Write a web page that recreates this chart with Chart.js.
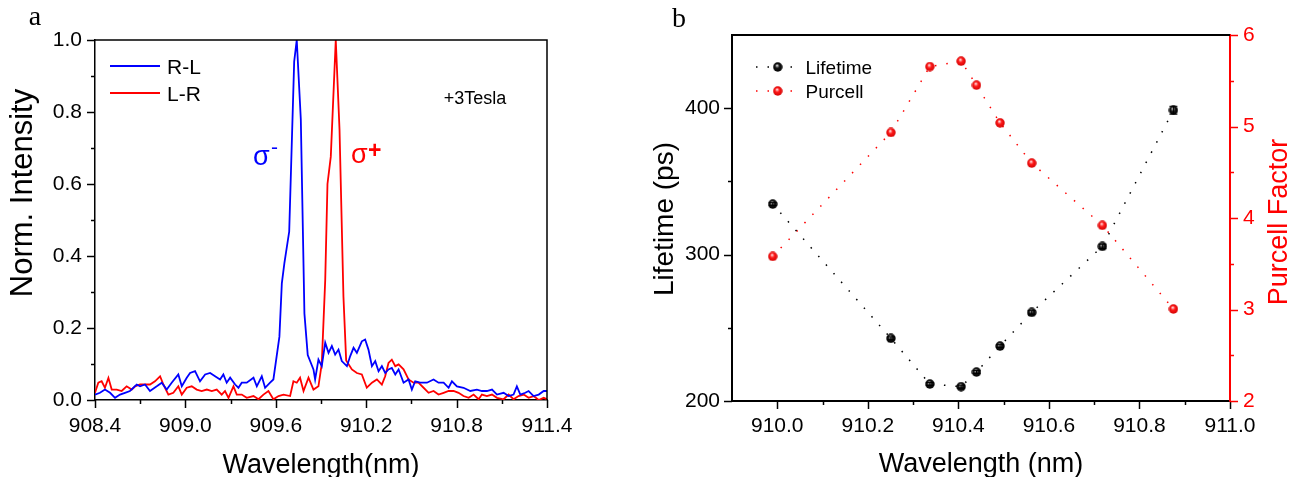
<!DOCTYPE html>
<html>
<head>
<meta charset="utf-8">
<title>Magneto-PL and Purcell factor</title>
<script src="https://cdn.jsdelivr.net/npm/chart.js"></script>
<style>
  body { margin: 0; background: #fff; }
  #wrap { position: relative; width: 1297px; height: 477px; overflow: hidden; }
  #chartA { position: absolute; left: 0; top: 0; }
  #chartB { position: absolute; left: 600px; top: 0; }
</style>
</head>
<body>
<div id="wrap">
  <canvas id="chartA" width="600" height="477"></canvas>
  <canvas id="chartB" width="697" height="477"></canvas>
</div>
<script>
// ---- panel a : normalised PL spectra at +3 T ----
const rlWl = [908.400,908.433,908.466,908.500,908.533,908.566,908.599,908.632,908.677,908.699,
  908.732,908.765,908.810,908.843,908.876,908.909,908.953,908.976,909.009,909.031,
  909.064,909.097,909.131,909.164,909.197,909.230,909.252,909.274,909.297,909.330,
  909.352,909.374,909.407,909.452,909.474,909.507,909.529,909.562,909.584,909.624,
  909.640,909.657,909.689,909.722,909.739,909.766,909.790,909.812,909.850,909.861,
  909.883,909.905,909.928,909.950,909.972,909.994,910.016,910.038,910.072,910.094,
  910.116,910.138,910.171,910.193,910.215,910.238,910.260,910.282,910.304,910.326,
  910.348,910.370,910.393,910.415,910.448,910.481,910.503,910.525,910.558,910.603,
  910.647,910.680,910.714,910.747,910.769,910.802,910.846,910.891,910.935,910.968,
  911.001,911.035,911.068,911.112,911.145,911.178,911.200,911.223,911.256,911.278,
  911.311,911.345,911.378,911.400];
const rlInt = [0.015,0.020,0.029,0.020,0.006,0.015,0.020,0.025,0.043,0.038,
  0.043,0.025,0.038,0.048,0.029,0.048,0.071,0.038,0.062,0.075,
  0.080,0.052,0.071,0.075,0.066,0.057,0.071,0.048,0.062,0.043,
  0.034,0.048,0.048,0.062,0.038,0.066,0.034,0.048,0.057,0.176,
  0.324,0.380,0.468,0.940,1.000,0.780,0.240,0.125,0.085,0.057,
  0.112,0.094,0.159,0.131,0.150,0.126,0.140,0.108,0.094,0.122,
  0.145,0.131,0.163,0.168,0.140,0.094,0.108,0.080,0.094,0.075,
  0.085,0.089,0.071,0.085,0.048,0.057,0.029,0.052,0.048,0.048,
  0.057,0.048,0.048,0.034,0.052,0.038,0.034,0.025,0.029,0.025,
  0.025,0.029,0.015,0.020,0.011,0.015,0.038,0.015,0.020,0.025,
  0.011,0.015,0.025,0.025];

const lrWl = [908.400,908.422,908.444,908.466,908.489,908.511,908.544,908.577,908.610,908.644,
  908.666,908.699,908.732,908.765,908.798,908.832,908.854,908.887,908.920,908.953,
  908.976,909.009,909.042,909.075,909.108,909.142,909.175,909.208,909.241,909.263,
  909.286,909.319,909.341,909.374,909.407,909.452,909.485,909.518,909.551,909.584,
  909.618,909.651,909.695,909.717,909.739,909.761,909.784,909.817,909.850,909.883,
  909.905,909.928,909.943,909.965,909.998,910.023,910.049,910.067,910.105,910.138,
  910.171,910.204,910.238,910.271,910.304,910.326,910.348,910.370,910.393,910.415,
  910.448,910.481,910.514,910.547,910.581,910.614,910.647,910.680,910.714,910.747,
  910.780,910.813,910.846,910.880,910.913,910.946,910.968,911.001,911.035,911.068,
  911.112,911.145,911.178,911.211,911.245,911.278,911.311,911.345,911.378,911.400];
const lrInt = [0.020,0.048,0.052,0.034,0.061,0.029,0.029,0.025,0.038,0.029,
  0.038,0.043,0.043,0.043,0.052,0.066,0.043,0.015,0.020,0.038,
  0.015,0.034,0.038,0.029,0.025,0.029,0.025,0.029,0.015,0.025,
  0.006,0.038,0.015,0.015,0.006,0.011,0.002,0.015,0.025,0.002,
  0.011,0.015,0.011,0.052,0.048,0.062,0.025,0.062,0.029,0.038,
  0.100,0.333,0.600,0.676,1.000,0.750,0.287,0.110,0.085,0.075,
  0.071,0.034,0.048,0.057,0.043,0.066,0.103,0.112,0.094,0.099,
  0.085,0.057,0.048,0.048,0.034,0.020,0.025,0.015,0.020,0.025,
  0.025,0.020,0.011,0.006,0.015,0.002,0.015,0.011,0.015,0.006,
  0.002,0.015,0.002,0.011,0.015,0.006,0.011,0.000,0.006,0.002];

const aXTicks = [908.4, 909.0, 909.6, 910.2, 910.8, 911.4];
const aYTicks = [0.0, 0.2, 0.4, 0.6, 0.8, 1.0];

// ---- panel b : lifetime and Purcell factor vs wavelength ----
const bWl = [909.990, 910.251, 910.337, 910.406, 910.440, 910.492, 910.562, 910.718, 910.875];
const lifetime = [334.5, 242.8, 211.6, 209.8, 219.8, 237.5, 260.5, 305.6, 398.6];
const lifetimeErr = [1.0, 1.0, 1.0, 1.0, 1.0, 1.0, 1.2, 1.5, 2.7];
const purcell = [3.58, 4.935, 5.655, 5.714, 5.452, 5.04, 4.60, 3.92, 3.006];

const bXTicks = [910.0, 910.2, 910.4, 910.6, 910.8, 911.0];
const bYTicks = [200, 300, 400];
const bY1Ticks = [2, 3, 4, 5, 6];

const SANS = "'Liberation Sans', Arial, sans-serif";
const SERIF = "'Liberation Serif', 'Times New Roman', serif";
Chart.defaults.font.family = SANS;
Chart.defaults.color = '#000';

function midpoints(arr) {
    const out = [];
    for (let i = 0; i < arr.length - 1; i++) out.push((arr[i] + arr[i + 1]) / 2);
    return out;
}

function pairs(xs, ys) {
    return xs.map((x, i) => ({x: x, y: ys[i]}));
}

// little shaded ball used as marker in panel b
function sphere(light, base, edge) {
    const c = document.createElement('canvas');
    c.width = 10; c.height = 10;
    const g = c.getContext('2d');
    const grad = g.createRadialGradient(4.2, 3.4, 0.3, 5, 5, 5);
    grad.addColorStop(0, light);
    grad.addColorStop(0.4, base);
    grad.addColorStop(1, edge);
    g.fillStyle = grad;
    g.beginPath();
    g.arc(5, 5, 4.7, 0, Math.PI * 2);
    g.fill();
    return c;
}
const ballBlack = sphere('#d8d8d8', '#151515', '#000000');
const ballRed = sphere('#ffe0e0', '#ff1a1a', '#d00000');

// draw outward tick marks from the scale's own pixel mapping
function tickMarks(chart, id, values, len, side, color) {
    const s = chart.scales[id];
    const ca = chart.chartArea;
    const ctx = chart.ctx;
    ctx.save();
    ctx.strokeStyle = color;
    ctx.lineWidth = 1.5;
    values.forEach(v => {
        const p = Math.round(s.getPixelForValue(v)) + 0.5;
        ctx.beginPath();
        if (side === 'bottom') { ctx.moveTo(p, ca.bottom); ctx.lineTo(p, ca.bottom + len); }
        else if (side === 'left') { ctx.moveTo(ca.left, p); ctx.lineTo(ca.left - len, p); }
        else { ctx.moveTo(ca.right, p); ctx.lineTo(ca.right + len, p); }
        ctx.stroke();
    });
    ctx.restore();
}

function text(ctx, str, x, y, font, color, align, rot) {
    ctx.save();
    ctx.font = font;
    ctx.fillStyle = color;
    ctx.textAlign = align || 'left';
    ctx.textBaseline = 'alphabetic';
    ctx.translate(x, y);
    if (rot) ctx.rotate(rot);
    ctx.fillText(str, 0, 0);
    ctx.restore();
}

// Panel a extras: frame, ticks, titles, legend, labels
const panelA = {
    id: 'panelA',
    afterDraw(chart) {
        const ctx = chart.ctx;
        const ca = chart.chartArea;
        ctx.save();
        ctx.strokeStyle = '#000';
        ctx.lineWidth = 1.5;
        ctx.beginPath();
        ctx.moveTo(ca.left, ca.top);
        ctx.lineTo(ca.right, ca.top);
        ctx.lineTo(ca.right, ca.bottom);
        ctx.stroke();
        ctx.restore();

        tickMarks(chart, 'x', aXTicks, 8, 'bottom', '#000');
        tickMarks(chart, 'x', midpoints(aXTicks), 4, 'bottom', '#000');
        tickMarks(chart, 'y', aYTicks, 8, 'left', '#000');
        tickMarks(chart, 'y', midpoints(aYTicks), 4, 'left', '#000');

        text(ctx, 'a', 35, 25, '28px ' + SERIF, '#000', 'center');
        text(ctx, 'Norm. Intensity', 32, 193, '31px ' + SANS, '#000', 'center', -Math.PI / 2);
        text(ctx, 'Wavelength(nm)', (ca.left + ca.right) / 2, 473, '27px ' + SANS, '#000', 'center');

        // legend
        const ds = chart.data.datasets;
        [[ds[0], 66], [ds[1], 93]].forEach(([d, y]) => {
            ctx.save();
            ctx.strokeStyle = d.borderColor;
            ctx.lineWidth = 1.8;
            ctx.beginPath();
            ctx.moveTo(110, y);
            ctx.lineTo(160, y);
            ctx.stroke();
            ctx.restore();
            text(ctx, d.label, 167, y + 7.5, '21px ' + SANS, '#000', 'left');
        });

        text(ctx, '+3Tesla', 475, 103.5, '18px ' + SANS, '#000', 'center');

        // sigma labels
        text(ctx, '\u03c3', 253, 165, '27px ' + SANS, '#0000ff', 'left');
        text(ctx, '-', 271, 154, '21px ' + SANS, '#0000ff', 'left');
        text(ctx, '\u03c3', 351, 163, '27px ' + SANS, '#ff0000', 'left');
        text(ctx, '+', 368, 158, 'bold 23px ' + SANS, '#ff0000', 'left');
    }
};

new Chart(document.getElementById('chartA'), {
    type: 'scatter',
    data: {
        datasets: [
            {label: 'R-L', data: pairs(rlWl, rlInt), showLine: true, borderColor: '#0000ff',
             borderWidth: 1.8, pointRadius: 0, tension: 0},
            {label: 'L-R', data: pairs(lrWl, lrInt), showLine: true, borderColor: '#ff0000',
             borderWidth: 1.8, pointRadius: 0, tension: 0}
        ]
    },
    options: {
        responsive: false,
        animation: false,
        devicePixelRatio: 1,
        layout: {padding: {left: 0, top: 40, right: 53, bottom: 0}},
        plugins: {legend: {display: false}, tooltip: {enabled: false}},
        scales: {
            x: {
                type: 'linear', min: 908.4, max: 911.4,
                afterBuildTicks: s => { s.ticks = aXTicks.map(v => ({value: v})); },
                afterFit: s => { s.height = 77; },
                ticks: {callback: v => v.toFixed(1), font: {size: 21}, color: '#000',
                        padding: 14, maxRotation: 0, autoSkip: false},
                grid: {display: false, drawTicks: false},
                border: {display: true, color: '#000', width: 1.5}
            },
            y: {
                min: 0, max: 1,
                afterBuildTicks: s => { s.ticks = aYTicks.map(v => ({value: v})); },
                afterFit: s => { s.width = 95; },
                ticks: {callback: v => v.toFixed(1), font: {size: 21}, color: '#000', padding: 13},
                grid: {display: false, drawTicks: false},
                border: {display: true, color: '#000', width: 1.5}
            }
        }
    },
    plugins: [panelA]
});

// Panel b extras
const panelB = {
    id: 'panelB',
    afterDatasetsDraw(chart) {
        const ctx = chart.ctx;
        const sx = chart.scales.x, sy = chart.scales.y;
        ctx.save();
        ctx.strokeStyle = '#000';
        ctx.lineWidth = 1;
        bWl.forEach((w, i) => {
            const px = sx.getPixelForValue(w);
            const top = sy.getPixelForValue(lifetime[i] + lifetimeErr[i]);
            const bot = sy.getPixelForValue(lifetime[i] - lifetimeErr[i]);
            ctx.beginPath();
            ctx.moveTo(px, top); ctx.lineTo(px, bot);
            ctx.moveTo(px - 4, top); ctx.lineTo(px + 4, top);
            ctx.moveTo(px - 4, bot); ctx.lineTo(px + 4, bot);
            ctx.stroke();
        });
        ctx.restore();
    },
    afterDraw(chart) {
        const ctx = chart.ctx;
        const ca = chart.chartArea;
        ctx.save();
        ctx.strokeStyle = '#000';
        ctx.lineWidth = 2;
        ctx.beginPath();
        ctx.moveTo(ca.left, ca.top);
        ctx.lineTo(ca.right, ca.top);
        ctx.stroke();
        ctx.restore();

        tickMarks(chart, 'x', bXTicks, 8, 'bottom', '#000');
        tickMarks(chart, 'x', midpoints(bXTicks), 4, 'bottom', '#000');
        tickMarks(chart, 'y', bYTicks, 8, 'left', '#000');
        tickMarks(chart, 'y', midpoints(bYTicks), 4, 'left', '#000');
        tickMarks(chart, 'y1', bY1Ticks, 8, 'right', '#ff0000');
        tickMarks(chart, 'y1', midpoints(bY1Ticks), 4, 'right', '#ff0000');

        text(ctx, 'b', 72, 27, '28px ' + SERIF, '#000', 'left');
        text(ctx, 'Lifetime (ps)', 73, 219, '28px ' + SANS, '#000', 'center', -Math.PI / 2);
        text(ctx, 'Purcell Factor', 687, 222, '27px ' + SANS, '#ff0000', 'center', -Math.PI / 2);
        text(ctx, 'Wavelength (nm)', (ca.left + ca.right) / 2, 472, '27px ' + SANS, '#000', 'center');

        // legend
        const ds = chart.data.datasets;
        [[ds[0], ballBlack, 67], [ds[1], ballRed, 91]].forEach(([d, img, y]) => {
            ctx.save();
            ctx.strokeStyle = d.borderColor;
            ctx.lineWidth = 1.5;
            ctx.setLineDash([1.5, 10]);
            ctx.beginPath();
            ctx.moveTo(156, y);
            ctx.lineTo(197, y);
            ctx.stroke();
            ctx.restore();
            ctx.drawImage(img, 172.7, y - 5);
            text(ctx, d.label, 205.5, y + 7, '19px ' + SANS, '#000', 'left');
        });
    }
};

new Chart(document.getElementById('chartB'), {
    type: 'scatter',
    data: {
        datasets: [
            {label: 'Lifetime', data: pairs(bWl, lifetime), yAxisID: 'y', showLine: true,
             borderColor: '#000', borderWidth: 1.5, borderDash: [1.5, 10],
             pointStyle: ballBlack, pointRadius: 5, tension: 0},
            {label: 'Purcell', data: pairs(bWl, purcell), yAxisID: 'y1', showLine: true,
             borderColor: '#ff0000', borderWidth: 1.5, borderDash: [1.5, 10],
             pointStyle: ballRed, pointRadius: 5, tension: 0}
        ]
    },
    options: {
        responsive: false,
        animation: false,
        devicePixelRatio: 1,
        layout: {padding: {left: 0, top: 35, right: 0, bottom: 0}},
        plugins: {legend: {display: false}, tooltip: {enabled: false}},
        scales: {
            x: {
                type: 'linear', min: 909.9, max: 911.0,
                afterBuildTicks: s => { s.ticks = bXTicks.map(v => ({value: v})); },
                afterFit: s => { s.height = 76; },
                ticks: {callback: v => v.toFixed(1), font: {size: 21}, color: '#000',
                        padding: 13, maxRotation: 0, autoSkip: false},
                grid: {display: false, drawTicks: false},
                border: {display: true, color: '#000', width: 2}
            },
            y: {
                position: 'left', min: 200, max: 450,
                afterBuildTicks: s => { s.ticks = bYTicks.map(v => ({value: v})); },
                afterFit: s => { s.width = 132; },
                ticks: {font: {size: 21}, color: '#000', padding: 12},
                grid: {display: false, drawTicks: false},
                border: {display: true, color: '#000', width: 2}
            },
            y1: {
                position: 'right', min: 2, max: 6,
                afterBuildTicks: s => { s.ticks = bY1Ticks.map(v => ({value: v})); },
                afterFit: s => { s.width = 67; },
                ticks: {font: {size: 21}, color: '#ff0000', padding: 13},
                grid: {display: false, drawTicks: false},
                border: {display: true, color: '#ff0000', width: 2}
            }
        }
    },
    plugins: [panelB]
});
</script>
</body>
</html>
